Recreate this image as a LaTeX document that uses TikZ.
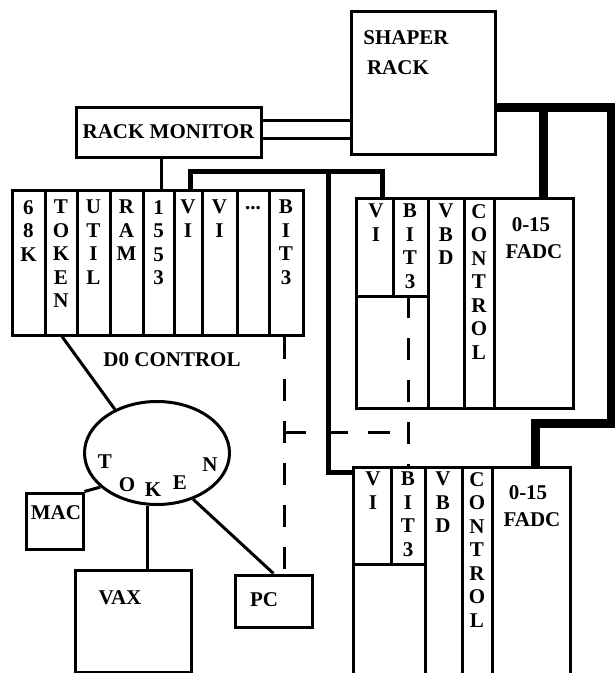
\documentclass[tikz,border=0pt]{standalone}
\usepackage{fontspec}
\setmainfont{Liberation Serif}
\usetikzlibrary{shapes.geometric,calc}
\begin{document}
\begin{tikzpicture}[x=1pt,y=-1pt,
  box/.style={draw, line width=3pt, inner sep=0pt},
  thinline/.style={line width=3pt},
  linkline/.style={line width=5pt},
  busline/.style={line width=9pt},
  dashline/.style={line width=3pt, dash pattern=on 22pt off 20pt},
  lbl/.style={font=\fontsize{21}{23.5}\selectfont\bfseries, inner sep=0pt, align=center},
  stack/.style={lbl, anchor=north}]
\useasboundingbox (0,0) rectangle (615,673);

% shaper rack
\node[box, minimum width=144pt, minimum height=143pt] (sr) at (423,82.5) {};
\node[lbl] (srt1) at (406,38) {SHAPER};
\node[lbl] (srt2) at (398,68) {RACK};

% rack monitor
\node[box, lbl, minimum width=185pt, minimum height=50pt] (rm) at (168.5,132) {RACK MONITOR};
\draw[thinline] (rm.east |- 0,120) -- (sr.west |- 0,120);
\draw[thinline] (rm.east |- 0,138) -- (sr.west |- 0,138);

% D0 control crate
\node[box, minimum width=291pt, minimum height=145pt] (d0) at (157.5,262.5) {};
\foreach \x in {45,77,110,143,174,202,237,269} \draw[thinline] (\x,190) -- (\x,335);
\node[stack] (s68k) at (28.5,200) {6\\8\\K};
\node[stack] (stok) at (61,200) {T\\O\\K\\E\\N};
\node[stack] (sutil) at (93.5,200) {U\\T\\I\\L};
\node[stack] (sram) at (126.5,200) {R\\A\\M};
\node[stack] (s1553) at (158.5,200) {1\\5\\5\\3};
\node[stack] (svi1) at (188,200) {V\\I};
\node[stack] (svi2) at (219.5,200) {V\\I};
\node[lbl, anchor=base] (sdots) at (253,209) {...};
\node[stack] (sbit) at (286,200) {B\\I\\T\\3};
\node[lbl] (d0t) at (172,360) {D0 CONTROL};
\draw[thinline] (161,0 |- rm.south) -- (161,0 |- d0.north);

% upper FADC crate
\node[box, minimum width=217pt, minimum height=210pt] (uc) at (464.5,303) {};
\draw[thinline] (393,198) -- (393,296);
\draw[thinline] (356,296) -- (428,296);
\foreach \x in {428,464,494} \draw[thinline] (\x,198) -- (\x,408);
\node[stack] (uvi) at (376,204) {V\\I};
\node[stack] (ubit) at (410,204) {B\\I\\T\\3};
\node[stack] (uvbd) at (446,204) {V\\B\\D};
\node[stack] (uctl) at (479,204) {C\\O\\N\\T\\R\\O\\L};
\node[lbl] (ufa) at (531,225) {0-15};
\node[lbl] (ufb) at (534,252) {FADC};

% lower FADC crate (open at the bottom)
\node[box, minimum width=217pt, minimum height=233pt] (lc) at (461.5,583.5) {};
\draw[thinline] (391,467) -- (391,564);
\draw[thinline] (353,564) -- (425,564);
\foreach \x in {425,462,492} \draw[thinline] (\x,467) -- (\x,700);
\node[stack] (lvi) at (373,472) {V\\I};
\node[stack] (lbit) at (408,472) {B\\I\\T\\3};
\node[stack] (lvbd) at (443,472) {V\\B\\D};
\node[stack] (lctl) at (477,472) {C\\O\\N\\T\\R\\O\\L};
\node[lbl] (lfa) at (528,493) {0-15};
\node[lbl] (lfb) at (532,520) {FADC};

% VI link
\coordinate (lcw) at (lc.west |- 0,472);
\draw[linkline] (190,0 |- d0.north) -- (190,171) -- (382,171) -- (382,0 |- uc.north);
\draw[linkline] (328,171) -- (328,472) -- (lcw);

% shaper bus
\draw[busline] (sr.east |- 0,107) -- (611,107) -- (611,423) -- (535,423) -- (535,0 |- lc.north);
\draw[busline] (543,107) -- (543,0 |- uc.north);

% token ring
\node[draw, ellipse, line width=3pt, minimum width=145pt, minimum height=103pt, inner sep=0pt] (tok) at (157,453) {};
\node[lbl] (rt) at (105,462) {T};
\node[lbl] (ro) at (127,485) {O};
\node[lbl] (rk) at (153,490) {K};
\node[lbl] (re) at (180,483) {E};
\node[lbl] (rn) at (210,465) {N};
\draw[thinline] (62,0 |- d0.south) -- (tok.134);

% computers
\node[box, minimum width=57pt, minimum height=56pt] (mac) at (54.5,521) {};
\node[lbl] (mact) at (56,513) {MAC};
\node[box, minimum width=116pt, minimum height=102pt] (vax) at (133,621) {};
\node[lbl] (vaxt) at (120,598) {VAX};
\node[box, minimum width=77pt, minimum height=52pt] (pc) at (273.5,601) {};
\node[lbl] (pct) at (264,600) {PC};
\draw[thinline] (mac.north east) -- (tok.211);
\draw[thinline] (tok.260) -- (tok.260 |- vax.north);
\draw[thinline] (tok.308) -- (pc.north);

% dashed links
\draw[dashline] (284,0 |- d0.south) -- (284,0 |- pc.north);
\draw[dashline] (284,432) -- (408,432);
\draw[dashline] (408,296) -- (408,0 |- lc.north);
\end{tikzpicture}
\end{document}
